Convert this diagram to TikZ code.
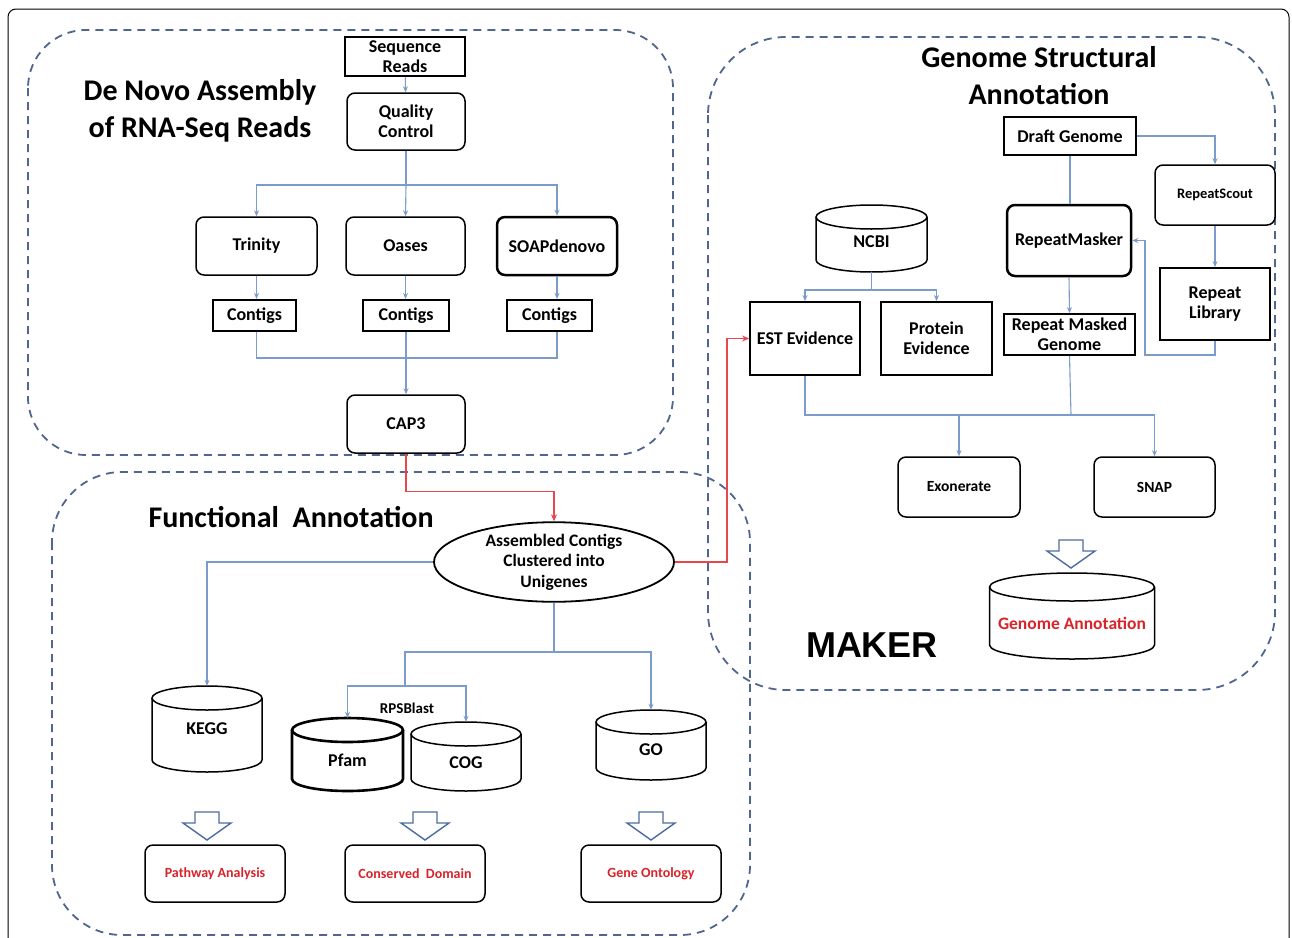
\documentclass[tikz,border=0pt]{standalone}
\usepackage{fontspec}
\setmainfont{Carlito}
\newfontfamily\arialfont{Liberation Sans}
\usetikzlibrary{shapes.geometric,arrows.meta,calc}
\definecolor{connblue}{HTML}{7B9BCB}
\definecolor{dashnavy}{HTML}{51668F}
\definecolor{redline}{HTML}{E8474C}
\definecolor{redtext}{HTML}{D8232A}
\definecolor{hollowblue}{HTML}{4D6C9E}
\tikzset{
  lineb/.style={draw=connblue, line width=1.1pt},
  conn/.style={lineb, -{Stealth[length=6pt,width=5pt]}},
  redc/.style={draw=redline, line width=1.3pt, -{Stealth[length=7pt,width=6pt]}},
  frame/.style={draw=dashnavy, line width=1.8pt, dash pattern=on 8pt off 6pt},
  txt/.style={font=\bfseries\fontsize{18}{20}\selectfont},
  smalltxt/.style={font=\bfseries\fontsize{15.5}{18}\selectfont},
  redtxt/.style={font=\bfseries\fontsize{14}{16}\selectfont, text=redtext},
  roundbox/.style={draw, line width=1.5pt, rounded corners=8pt, fill=white, align=center, inner sep=0pt},
  thickbox/.style={roundbox, line width=2.5pt},
  sqbox/.style={draw, line width=1.8pt, fill=white, align=center, inner sep=0pt},
  dbtext/.style={inner sep=0pt, align=center},
  title/.style={font=\bfseries\fontsize{30}{37}\selectfont, align=center},
  hollow/.style={draw=hollowblue, line width=1.4pt, fill=white, line join=miter},
}
\newcommand\lowered[2]{\raisebox{-#1pt}[\height][\depth]{#2}}
% #1 name, #2 cx, #3 cy, #4 width, #5 height, #6 ellipse half-height, #7 line width, #8 style, #9 text
\newcommand\dbcyl[9]{%
  \pgfmathsetmacro\cylL{#2-#4/2}%
  \pgfmathsetmacro\cylR{#2+#4/2}%
  \pgfmathsetmacro\cylT{#3-#5/2+#6}%
  \pgfmathsetmacro\cylB{#3+#5/2-#6}%
  \pgfmathsetmacro\cylRx{#4/2}%
  \draw[line width=#7, fill=white] (\cylL,\cylT) -- (\cylL,\cylB)
     arc[start angle=180, end angle=360, x radius=\cylRx pt, y radius=#6pt] -- (\cylR,\cylT);
  \draw[line width=#7] (#2,\cylT) ellipse[x radius=\cylRx pt, y radius=#6pt];
  \node[dbtext, #8, minimum width=#4pt, minimum height=#5pt] (#1) at (#2,#3) {#9};%
}
\newcommand\hollowdown[2]{%
  \draw[hollow] (#1,#2) ++(-12,0) -- ++(24,0) -- ++(0,11) -- ++(12,0) -- ++(-24,17) -- ++(-24,-17) -- ++(12,0) -- cycle;%
}
\begin{document}
\begin{tikzpicture}[x=1pt,y=-1pt]
\useasboundingbox (0,0) rectangle (1292,937);
\fill[white] (0,0) rectangle (1292,937);
% outer frame
\draw[line width=1pt, rounded corners=8pt] (8,960) -- (8,9) -- (1289,9) -- (1289,960);
% dashed group frames
\draw[frame, rounded corners=58pt] (28,30) rectangle (673,455);
\draw[frame, rounded corners=78pt] (708,37) rectangle (1275,690);
\draw[frame, rounded corners=70pt] (52,472) rectangle (750,935);

% ---------- De novo assembly ----------
\node[title] (t1) at (200,111) {De Novo Assembly\\of RNA-Seq Reads};
\node[sqbox, txt, minimum width=120pt, minimum height=39pt] (seq) at (405,56.5) {Sequence\\Reads};
\node[roundbox, txt, minimum width=118pt, minimum height=57pt] (qc) at (406,121.5) {Quality\\Control};
\node[roundbox, txt, minimum width=121pt, minimum height=58pt] (trinity) at (256.5,246) {Trinity};
\node[roundbox, txt, minimum width=119pt, minimum height=58pt] (oases) at (405.5,246) {Oases};
\node[thickbox, txt, minimum width=120pt, minimum height=58pt] (soap) at (557,246) {SOAPdenovo};
\node[sqbox, txt, line width=2.2pt, minimum width=83pt, minimum height=31pt] (c1) at (254.5,315.5) {Contigs};
\node[sqbox, txt, line width=2.2pt, minimum width=86pt, minimum height=31pt] (c2) at (406,315.5) {Contigs};
\node[sqbox, txt, line width=2.2pt, minimum width=85pt, minimum height=31pt] (c3) at (549.5,315.5) {Contigs};
\node[roundbox, txt, minimum width=118pt, minimum height=58pt] (cap3) at (406,424) {CAP3};
\coordinate (b1) at (406,185);
\coordinate (b2) at (406,358);
\draw[conn] (seq) -- (qc);
\draw[lineb] (qc.south) -- (b1);
\draw[conn] (b1) -| (trinity.north);
\draw[conn] (b1) -- (oases.north);
\draw[conn] (b1) -| (soap.north);
\draw[conn] (trinity.south) -- (trinity.south |- c1.north);
\draw[conn] (oases.south) -- (oases.south |- c2.north);
\draw[conn] (soap.south) -- (soap.south |- c3.north);
\draw[lineb] (trinity.south |- c1.south) |- (b2);
\draw[lineb] (soap.south |- c3.south) |- (b2);
\draw[conn] (c2.south) -- (cap3.north);

% ---------- Functional annotation ----------
\node[title] (t3) at (291,517) {Functional\ \ Annotation};
\node[ellipse, draw, line width=1.8pt, fill=white, font=\bfseries\fontsize{17.5}{20.5}\selectfont, align=center, inner sep=0pt, minimum width=240pt, minimum height=64pt] (uni) at (554,562) {Assembled Contigs\\Clustered into\\Unigenes};
\dbcyl{kegg}{207}{729}{110}{86}{12}{1.5pt}{txt}{KEGG}
\dbcyl{pfam}{347.5}{754.5}{111}{73}{12}{2.6pt}{txt}{\lowered{6}{Pfam}}
\dbcyl{cog}{466}{756.5}{110}{69}{12}{1.5pt}{txt}{\lowered{6}{COG}}
\dbcyl{go}{651}{745}{110}{70}{12}{1.5pt}{txt}{\lowered{5}{GO}}
\node[font=\bfseries\fontsize{15}{18}\selectfont] (rps) at (407,708) {RPSBlast};
\coordinate (b3) at (554,652);
\coordinate (b4) at (405,686);
\draw[conn] (uni.west) -| (kegg.north);
\draw[lineb] (uni.south) -- (b3);
\draw[conn] (b3) -| (go.north);
\draw[lineb] (b3) -| (b4);
\draw[conn] (b4) -| (pfam.north);
\draw[conn] (b4) -| (cog.north);
\hollowdown{207}{812}
\hollowdown{425}{812}
\hollowdown{651}{812}
\node[roundbox, redtxt, minimum width=140pt, minimum height=57pt] (path) at (215,873.5) {Pathway Analysis};
\node[roundbox, redtxt, minimum width=140pt, minimum height=57pt] (cons) at (415,873.5) {Conserved\ \ Domain};
\node[roundbox, redtxt, minimum width=140pt, minimum height=57pt] (gon) at (651,873.5) {Gene Ontology};

% ---------- Genome structural annotation ----------
\node[title] (t2) at (1039,76) {Genome Structural\\Annotation};
\node[sqbox, txt, minimum width=132pt, minimum height=38pt] (draft) at (1070,136) {Draft Genome};
\node[roundbox, font=\bfseries\fontsize{14.5}{17}\selectfont, minimum width=120pt, minimum height=60pt] (scout) at (1215,195) {RepeatScout};
\node[sqbox, txt, minimum width=110pt, minimum height=72pt] (lib) at (1215,304) {Repeat\\Library};
\node[thickbox, txt, minimum width=124pt, minimum height=71pt] (rm) at (1069,240.5) {RepeatMasker};
\node[sqbox, txt, minimum width=131pt, minimum height=41pt] (rmg) at (1069.5,334.5) {Repeat Masked\\Genome};
\dbcyl{ncbi}{871.5}{238.5}{111}{67}{12}{1.5pt}{txt}{\lowered{3}{NCBI}}
\node[sqbox, txt, minimum width=110pt, minimum height=73pt] (est) at (805,338.5) {EST Evidence};
\node[sqbox, txt, minimum width=111pt, minimum height=73pt] (prot) at (936.5,338.5) {Protein\\Evidence};
\node[roundbox, smalltxt, minimum width=122pt, minimum height=60pt] (exo) at (959,487) {Exonerate};
\node[roundbox, smalltxt, minimum width=121pt, minimum height=60pt] (snap) at (1154.5,487) {SNAP};
\hollowdown{1071}{540}
\dbcyl{ga}{1072}{616}{165}{86}{14}{1.5pt}{redtxt, font=\bfseries\fontsize{17.5}{20}\selectfont}{\lowered{7}{Genome Annotation}}
\node[font=\arialfont\bfseries\fontsize{36}{40}\selectfont] (maker) at (872,645) {MAKER};
\coordinate (b5) at (1145,355);
\coordinate (b6) at (871.5,290);
\coordinate (b7) at (1071,415);
\draw[conn] (draft.east) -| (scout.north);
\draw[conn] (scout) -- (lib);
\draw[conn] (lib.south) |- (b5) |- (rm.east);
\draw[lineb] (draft.south) -- (draft.south |- rm.north);
\draw[conn] (rm.south) -- (rmg.north);
\draw[lineb] (ncbi.south) -- (b6);
\draw[conn] (b6) -| (est.north);
\draw[conn] (b6) -| (prot.north);
\draw[lineb] (est.south) |- (b7);
\draw[lineb] (rmg.south) -- (b7);
\draw[conn] (b7) -| (exo.north);
\draw[conn] (b7) -| (snap.north);

% ---------- red links ----------
\draw[redc] (cap3.south) -- ++(0,38) -| (uni.north);
\draw[redc] (uni.east) -- ++(52,0) |- (est.west);
\end{tikzpicture}
\end{document}
